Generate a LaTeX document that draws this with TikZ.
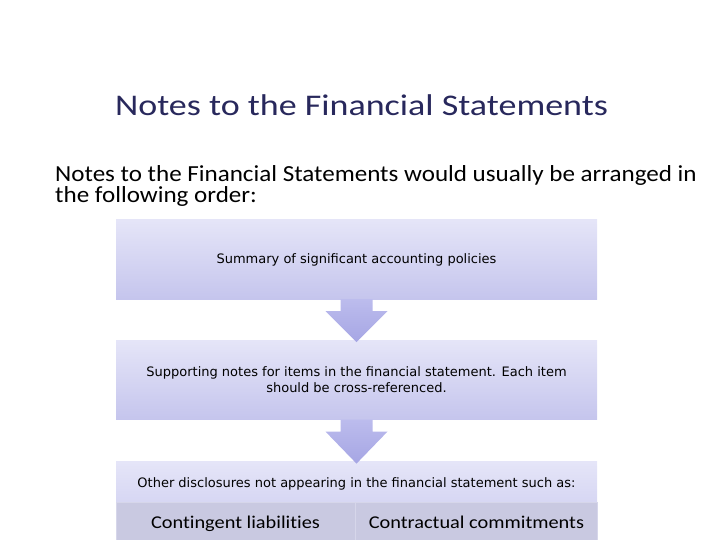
\documentclass[tikz,border=0pt]{standalone}
\usepackage{fontspec}
\setmainfont{Carlito}[Ligatures=NoCommon]
\newfontfamily\titlefont{Carlito}[FakeStretch=1.2,Ligatures=NoCommon]
\newfontfamily\introfont{Carlito}[FakeStretch=1.09,Ligatures=NoCommon]
\newfontfamily\cellfont{Carlito}[FakeStretch=1.13,Ligatures=NoCommon]
\newfontfamily\boxfont{DejaVu Sans}
\usetikzlibrary{positioning}
\usetikzlibrary{calc}
\definecolor{titleblue}{RGB}{40,40,92}
\definecolor{boxtop}{RGB}{229,229,248}
\definecolor{boxbottom}{RGB}{197,197,237}
\definecolor{arrowtop}{RGB}{188,188,237}
\definecolor{arrowbottom}{RGB}{166,166,228}
\definecolor{cellfill}{RGB}{201,201,225}
\definecolor{cellline}{RGB}{214,214,234}
\tikzstyle{stepbox}=[rectangle,minimum width=481pt,minimum height=79pt,inner sep=0pt,top color=boxtop,bottom color=boxbottom,align=center,font=\boxfont\fontsize{13}{16}\selectfont]
\tikzstyle{headbox}=[stepbox,minimum height=40pt,bottom color=boxtop!55!boxbottom]
\tikzstyle{cell}=[rectangle,minimum height=40pt,inner sep=0pt,text height=12pt,text depth=0pt,fill=cellfill,draw=cellline,font=\cellfont\fontsize{18}{22}\selectfont]
\tikzstyle{blockarrow}=[top color=arrowtop,bottom color=arrowbottom]

\begin{document}
\begin{tikzpicture}[x=1pt,y=-1pt]
    \useasboundingbox (0,0) rectangle (720,540);

    % Heading and intro text
    \node[text=titleblue, font=\titlefont\fontsize{30}{36}\selectfont] (title) at (361.5,105) {Notes to the Financial Statements};
    \node[anchor=north west, align=left, inner sep=0pt, font=\introfont\fontsize{23}{21}\selectfont] (intro) at (55,165)
        {Notes to the Financial Statements would usually be arranged in\\the following order:};

    % The three steps
    \node[stepbox] (box1) at (356.5,259.5) {Summary of significant accounting policies};
    \node[stepbox, below=41pt of box1] (box2) {Supporting notes for items in the financial statement. Each item\\should be cross-referenced.};
    \node[headbox, below=42pt of box2, text height=11pt, text depth=0pt] (box3) {Other disclosures not appearing in the financial statement such as:};

    % Two examples under the last step
    \node[cell, minimum width=239pt, anchor=north west] (cellA) at (box3.south west) {Contingent liabilities};
    \node[cell, minimum width=242pt, anchor=north west] (cellB) at (cellA.north east) {Contractual commitments};

    % Block arrows from step to step
    \foreach \src/\dst in {box1/box2, box2/box3}
        \path[blockarrow] ($(\src.south)+(-16,0)$) -- ($(\src.south)+(16,0)$) -- ($(\src.south)+(16,12)$)
            -- ($(\src.south)+(31,12)$) -- ($(\dst.north)+(0,2)$) -- ($(\src.south)+(-31,12)$)
            -- ($(\src.south)+(-16,12)$) -- cycle;

\end{tikzpicture}
\end{document}
